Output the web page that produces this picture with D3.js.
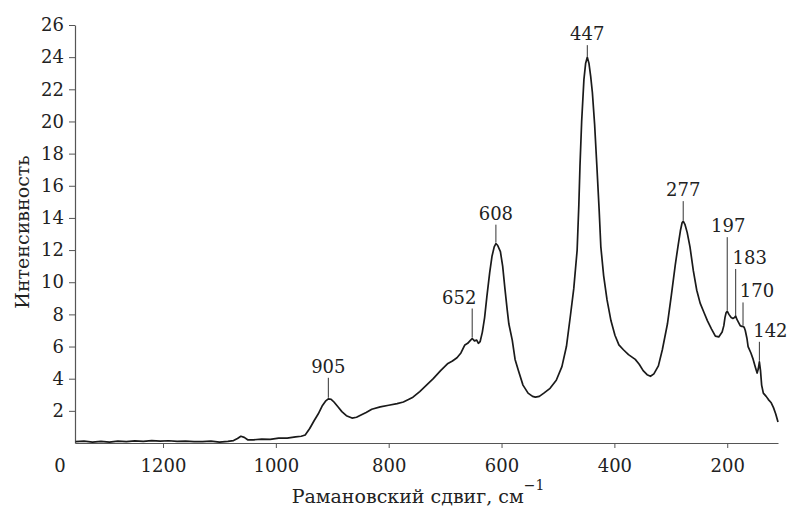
<!DOCTYPE html>
<html><head><meta charset="utf-8">
<script src="https://cdn.jsdelivr.net/npm/d3@7"></script>
<style>
html,body{margin:0;padding:0;background:#fff;}
</style></head>
<body><svg id="c" width="788" height="509" font-family="DejaVu Serif"></svg>
<script>
// ---- data ----
const wavenumber = [1355,1340,1325,1310,1295,1280,1265,1250,1235,1220,1205,1190,1175,1160,1145,1130,1115,1100,1085,1075,1068,1062,1056,1050,1040,1025,1010,995,980,965,955,948,940,932,925,918,912,907,902,897,890,883,875,865,857,850,840,830,815,800,785,774,765,757,745,733,721,708,695,687,679,672,665,660,656,652,648,644,641,638,634,630,626,621,617,613,610,607,602,598,594,590,587,581,576,570,562,553,545,540,533,525,514,503,493,485,478,472,466,463,461,458,454,451,448,445,442,439,435,431,427,424,419,413,406,399,392,384,375,363,356,349,342,336,330,322,315,306,299,292,287,283,280,278,275,271,266,260,254,248,241,235,228,221,215,209,206,204,202,200,197,193,190,187,185,183,180,177,174,172,170,168,165,163,158,154,150,147,145,143,141,139,136,131,127,122,118,114,110];
const intensity = [0.08,0.12,0.06,0.1,0.05,0.12,0.08,0.13,0.1,0.15,0.12,0.14,0.1,0.12,0.09,0.08,0.12,0.06,0.1,0.15,0.28,0.42,0.35,0.2,0.2,0.24,0.22,0.3,0.3,0.38,0.42,0.5,0.9,1.4,1.8,2.3,2.6,2.75,2.72,2.55,2.25,1.95,1.7,1.55,1.6,1.72,1.9,2.1,2.25,2.35,2.45,2.55,2.7,2.85,3.2,3.6,4.0,4.5,4.95,5.1,5.3,5.6,6.1,6.2,6.35,6.5,6.35,6.4,6.2,6.3,6.9,7.8,9.1,10.6,11.6,12.2,12.4,12.3,11.9,11.0,9.6,8.3,7.4,6.4,5.2,4.5,3.6,3.1,2.9,2.85,2.9,3.1,3.4,3.9,4.75,6.0,7.9,9.6,12.0,14.8,17.2,20.0,22.6,23.6,24.0,23.6,22.8,21.8,19.8,17.2,14.5,12.2,10.4,8.9,7.6,6.7,6.1,5.8,5.5,5.2,4.9,4.5,4.25,4.15,4.3,4.8,5.8,7.4,9.2,11.1,12.3,13.2,13.7,13.8,13.6,13.1,12.2,10.7,9.5,8.7,8.1,7.6,7.1,6.65,6.6,6.9,7.3,7.8,8.1,8.2,8.0,7.8,7.75,7.8,7.9,7.7,7.5,7.3,7.25,7.25,7.2,7.0,6.5,6.0,5.6,5.2,4.7,4.35,4.6,5.05,4.5,3.6,3.1,2.9,2.7,2.5,2.2,1.8,1.3];
const xTicks = [1200,1000,800,600,400,200];
const yTicks = [2,4,6,8,10,12,14,16,18,20,22,24,26];
const peakLabels = ["905","652","608","447","277","197","183","170","142"];
const peakWavenumber = [907,652,610,448,278,200,185,172,143];

// ---- layout (px offsets for peak labels) ----
const labelLift = [26,35,24,17,25,79,52,29,25];
const labelDx = [0,-13,0,0,0,1,14,14,11];

const FONT = "DejaVu Serif";
const svg = d3.select("#c");
const x = d3.scaleLinear().domain([1356,110]).range([75,778]);
const y = d3.scaleLinear().domain([0,26]).range([443,25]);
const axisColor = "#555";
const fs = 18;

// x axis
const gx = svg.append("g").attr("transform","translate(0,443)")
  .call(d3.axisBottom(x).tickValues(xTicks).tickSize(5).tickSizeOuter(0).tickFormat(d3.format("d")));
gx.attr("font-family",FONT).attr("font-size",fs);
gx.select(".domain").attr("stroke",axisColor).attr("stroke-width",1.2);
gx.selectAll(".tick line").attr("stroke",axisColor);
gx.selectAll(".tick text").attr("y",29).attr("dy",0).attr("fill","#222");

// y axis
const gy = svg.append("g").attr("transform","translate(75,0)")
  .call(d3.axisLeft(y).tickValues(yTicks).tickSize(6).tickPadding(5).tickSizeOuter(0));
gy.attr("font-family",FONT).attr("font-size",fs);
gy.select(".domain").attr("stroke",axisColor).attr("stroke-width",1.2);
gy.selectAll(".tick line").attr("stroke",axisColor);
gy.selectAll(".tick text").attr("fill","#222");

// corner zero
svg.append("text").attr("x",60).attr("y",472).attr("text-anchor","middle")
  .attr("font-family",FONT).attr("font-size",fs).attr("fill","#222").text("0");

// titles
const xt = svg.append("text").attr("x",418).attr("y",503).attr("text-anchor","middle")
  .attr("font-family",FONT).attr("font-size",19).attr("fill","#222");
xt.append("tspan").text("Рамановский сдвиг, см");
xt.append("tspan").attr("dy",-13).attr("font-size",14).text("\u22121");

svg.append("text").attr("transform","translate(29,232) rotate(-90)").attr("text-anchor","middle")
  .attr("font-family",FONT).attr("font-size",19).attr("fill","#222").text("Интенсивность");

// curve
const data = wavenumber.map((w,i)=>({w, v:intensity[i]}));
svg.append("path").datum(data)
  .attr("fill","none").attr("stroke","#1a1a1a").attr("stroke-width",1.7).attr("stroke-linejoin","round")
  .attr("d", d3.line().x(d=>x(d.w)).y(d=>y(d.v)));

// peak labels
function valueAt(w){
  for(let i=0;i<wavenumber.length-1;i++){
    const a=wavenumber[i], b=wavenumber[i+1];
    if(w<=a && w>=b){ const t=(a-w)/(a-b); return intensity[i]+t*(intensity[i+1]-intensity[i]); }
  }
  return 0;
}
peakLabels.forEach((lab,i)=>{
  const px = x(peakWavenumber[i]);
  const py = y(valueAt(peakWavenumber[i]));
  const base = py - labelLift[i];
  svg.append("line").attr("x1",px).attr("x2",px).attr("y1",py-1).attr("y2",base+5)
    .attr("stroke","#333").attr("stroke-width",1);
  svg.append("text").attr("x",px+labelDx[i]).attr("y",base).attr("text-anchor","middle")
    .attr("font-family",FONT).attr("font-size",fs).attr("fill","#222").text(lab);
});
</script></body></html>
